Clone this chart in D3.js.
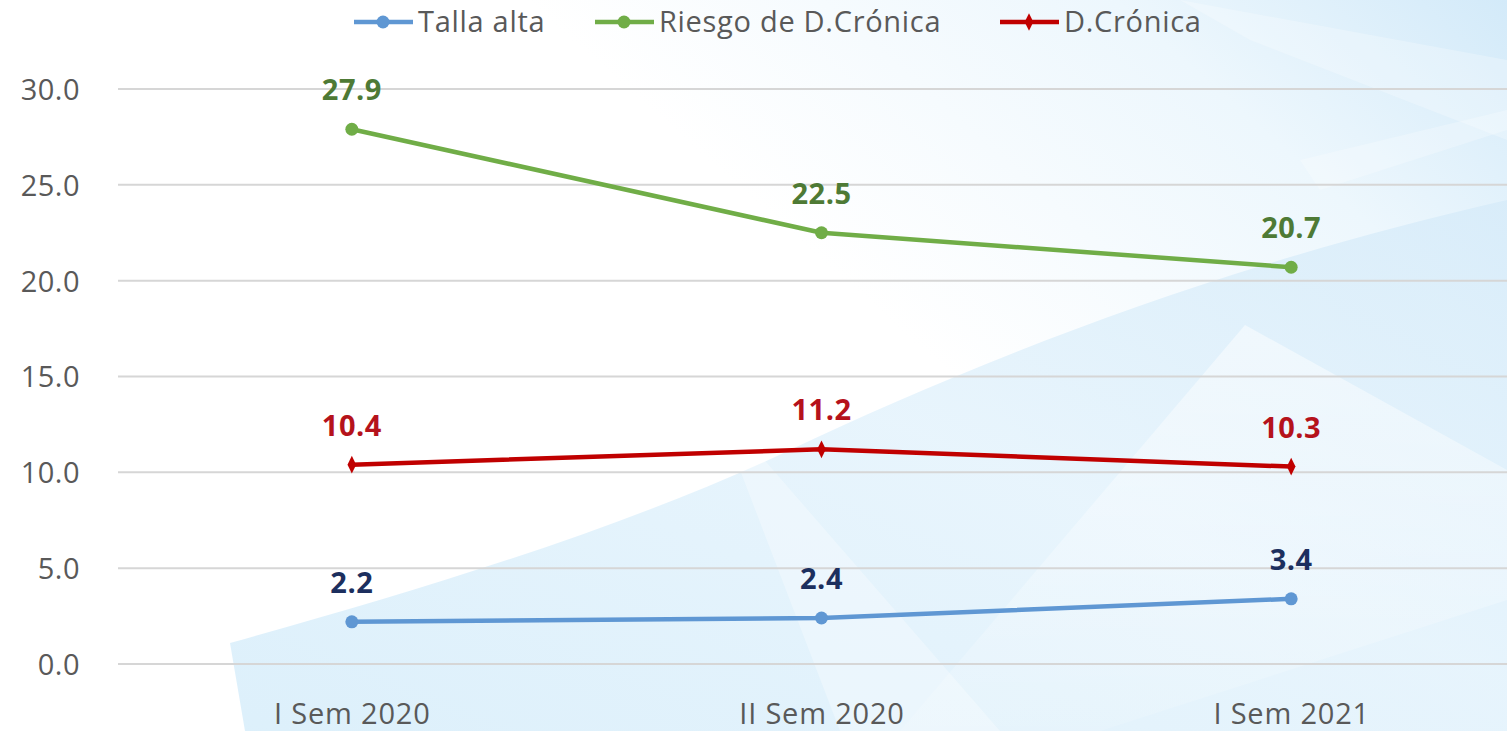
<!DOCTYPE html>
<html>
<head>
<meta charset="utf-8">
<script src="https://cdn.jsdelivr.net/npm/d3@7"></script>
<style>
  html, body { margin: 0; padding: 0; background: #fff; }
  svg { display: block; }
  text { font-family: "Open Sans", "Noto Sans", sans-serif; }
</style>
</head>
<body>
<svg id="chart" width="1507" height="731"></svg>
<script>
// Periods on the x axis
const categories = ["I Sem 2020", "II Sem 2020", "I Sem 2021"];

// Series values (%)
const tallaAlta = [2.2, 2.4, 3.4];
const riesgoDCronica = [27.9, 22.5, 20.7];
const dCronica = [10.4, 11.2, 10.3];

// Y axis ticks
const yTicks = [0, 5, 10, 15, 20, 25, 30];

const series = [
  { name: "Talla alta", values: tallaAlta, line: "#5f97d3", label: "#1c2f5e", marker: "circle" },
  { name: "Riesgo de D.Crónica", values: riesgoDCronica, line: "#70ad47", label: "#4e7a35", marker: "circle" },
  { name: "D.Crónica", values: dCronica, line: "#c00000", label: "#b5121b", marker: "diamond" }
];

const W = 1507, H = 731;
const svg = d3.select("#chart");

// ---- decorative background ----
const defs = svg.append("defs");
const g1 = defs.append("linearGradient").attr("id", "bgGrad")
  .attr("x1", "0%").attr("y1", "55%").attr("x2", "100%").attr("y2", "0%");
g1.append("stop").attr("offset", "0%").attr("stop-color", "#ffffff");
g1.append("stop").attr("offset", "50%").attr("stop-color", "#ffffff");
g1.append("stop").attr("offset", "80%").attr("stop-color", "#edf7fd");
g1.append("stop").attr("offset", "100%").attr("stop-color", "#d3eaf9");
const g2 = defs.append("linearGradient").attr("id", "sweepGrad")
  .attr("x1", "0%").attr("y1", "100%").attr("x2", "100%").attr("y2", "0%");
g2.append("stop").attr("offset", "0%").attr("stop-color", "#d4ecfa");
g2.append("stop").attr("offset", "55%").attr("stop-color", "#e2f2fc");
g2.append("stop").attr("offset", "100%").attr("stop-color", "#d6ebf9");
const g3 = defs.append("linearGradient").attr("id", "lightGrad")
  .attr("x1", "0%").attr("y1", "0%").attr("x2", "0%").attr("y2", "100%");
g3.append("stop").attr("offset", "0%").attr("stop-color", "#ffffff").attr("stop-opacity", 0.85);
g3.append("stop").attr("offset", "100%").attr("stop-color", "#ffffff").attr("stop-opacity", 0.2);

const bg = svg.append("g").attr("class", "background");
bg.append("rect").attr("width", W).attr("height", H).attr("fill", "url(#bgGrad)");
bg.append("path")
  .attr("d", "M230,643 C420,590 620,530 790,450 C960,370 1200,270 1507,200 L1507,731 L245,731 Z")
  .attr("fill", "url(#sweepGrad)").attr("opacity", 0.8);
bg.append("path")
  .attr("d", "M1245,325 L1507,470 L1507,600 L1100,731 L900,731 Z")
  .attr("fill", "url(#lightGrad)").attr("opacity", 0.6);
bg.append("path")
  .attr("d", "M760,455 L1000,731 L840,731 L740,470 Z")
  .attr("fill", "#ffffff").attr("opacity", 0.3);
bg.append("path")
  .attr("d", "M1180,0 L1507,60 L1507,140 L1250,40 Z")
  .attr("fill", "#ffffff").attr("opacity", 0.25);
bg.append("path")
  .attr("d", "M1300,160 L1507,110 L1507,130 L1320,190 Z")
  .attr("fill", "#ffffff").attr("opacity", 0.25);

// ---- scales ----
const x = d3.scalePoint().domain(categories).range([117, 1526]).padding(0.5);
const y = d3.scaleLinear().domain([0, 30]).range([664, 89]);

// ---- grid lines ----
svg.append("g").attr("class", "grid")
  .selectAll("line").data(yTicks).join("line")
  .attr("x1", 118).attr("x2", W)
  .attr("y1", d => y(d)).attr("y2", d => y(d))
  .attr("stroke", "#d6d6d6").attr("stroke-width", 2);

// ---- y axis ----
const yAxis = svg.append("g").attr("transform", "translate(80,0)")
  .call(d3.axisLeft(y).tickValues(yTicks).tickFormat(d3.format(".1f")).tickSize(0).tickPadding(0));
yAxis.select(".domain").remove();
yAxis.selectAll("text")
  .attr("fill", "#595959").style("font-size", "29px").attr("dy", "0.36em")
  .style("letter-spacing", "0.5px");

// ---- x axis ----
const xAxis = svg.append("g").attr("transform", "translate(0,697)")
  .call(d3.axisBottom(x).tickSize(0).tickPadding(0));
xAxis.select(".domain").remove();
xAxis.selectAll("text")
  .attr("fill", "#595959").style("font-size", "29px").attr("dy", "0.93em")
  .style("letter-spacing", "0.8px");

// ---- lines, markers, labels ----
const line = d3.line().x((d, i) => x(categories[i])).y(d => y(d));
const diamond = d3.symbol().type(d3.symbolDiamond).size(90);

series.forEach(s => {
  const g = svg.append("g").attr("class", "series");
  g.append("path").datum(s.values)
    .attr("d", line).attr("fill", "none")
    .attr("stroke", s.line).attr("stroke-width", 4.5)
    .attr("stroke-linejoin", "round").attr("stroke-linecap", "round");
  if (s.marker === "circle") {
    g.selectAll("circle").data(s.values).join("circle")
      .attr("cx", (d, i) => x(categories[i])).attr("cy", d => y(d))
      .attr("r", 6.5).attr("fill", s.line);
  } else {
    g.selectAll("path.m").data(s.values).join("path").attr("class", "m")
      .attr("transform", (d, i) => `translate(${x(categories[i])},${y(d)}) scale(0.85,1)`)
      .attr("d", diamond).attr("fill", s.line);
  }
  g.selectAll("text").data(s.values).join("text")
    .attr("x", (d, i) => x(categories[i])).attr("y", d => y(d) - 29)
    .attr("text-anchor", "middle")
    .attr("fill", s.label).style("font-size", "29px").style("font-weight", "700")
    .style("letter-spacing", "0.5px")
    .text(d => d3.format(".1f")(d));
});

// ---- legend ----
const legend = svg.append("g").attr("class", "legend");
const legendStarts = [354, 595, 1000];
series.forEach((s, i) => {
  const lg = legend.append("g").attr("transform", `translate(${legendStarts[i]},22)`);
  lg.append("line").attr("x1", 0).attr("x2", 59).attr("y1", 0).attr("y2", 0)
    .attr("stroke", s.line).attr("stroke-width", 4.5);
  if (s.marker === "circle") {
    lg.append("circle").attr("cx", 29).attr("cy", 0).attr("r", 6.5).attr("fill", s.line);
  } else {
    lg.append("path").attr("transform", "translate(29,0) scale(0.85,1)").attr("d", diamond).attr("fill", s.line);
  }
  lg.append("text").attr("x", 64).attr("y", 0).attr("dy", "0.36em")
    .attr("fill", "#595959").style("font-size", "29px").style("letter-spacing", "0.7px")
    .text(s.name);
});
</script>
</body>
</html>
